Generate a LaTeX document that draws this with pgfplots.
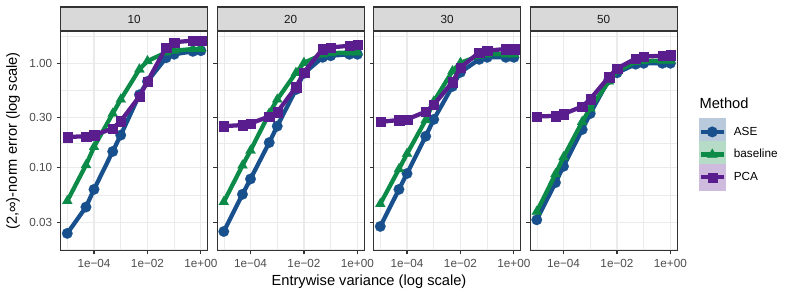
\documentclass[border=0pt]{standalone}
\usepackage{pgfplots}
\usepackage{pgfplotstable}
\pgfplotsset{compat=1.18}
\usepackage{fontspec}
\setmainfont{Liberation Sans}
\definecolor{cASE}{HTML}{17508C}
\definecolor{cBase}{HTML}{0C8A47}
\definecolor{cPCA}{HTML}{5A1D8E}
\definecolor{grid92}{HTML}{EBEBEB}
\definecolor{g20}{HTML}{333333}
\definecolor{g30}{HTML}{4D4D4D}
\definecolor{g85}{HTML}{D9D9D9}
\definecolor{g10}{HTML}{1A1A1A}

\pgfplotstableread{
x ase base pca
1e-5 0.0235 0.048 0.197
5e-5 0.042 0.106 0.200
1e-4 0.062 0.158 0.205
5e-4 0.143 0.33 0.237
1e-3 0.205 0.45 0.28
5e-3 0.50 0.875 0.48
1e-2 0.67 1.05 0.67
5e-2 1.13 1.27 1.42
1e-1 1.22 1.32 1.59
5e-1 1.30 1.37 1.65
1 1.32 1.37 1.65
}\tA
\pgfplotstableread{
x ase base pca
1e-5 0.0245 0.047 0.25
5e-5 0.0556 0.105 0.256
1e-4 0.078 0.146 0.265
5e-4 0.174 0.33 0.31
1e-3 0.25 0.45 0.34
5e-3 0.56 0.81 0.59
1e-2 0.80 1.01 0.82
5e-2 1.14 1.22 1.37
1e-1 1.18 1.25 1.42
5e-1 1.22 1.27 1.47
1 1.22 1.27 1.50
}\tB
\pgfplotstableread{
x ase base pca
1e-5 0.0274 0.045 0.275
5e-5 0.062 0.097 0.286
1e-4 0.088 0.136 0.29
5e-4 0.20 0.286 0.344
1e-3 0.29 0.43 0.40
5e-3 0.60 0.84 0.66
1e-2 0.82 1.01 0.91
5e-2 1.09 1.18 1.27
1e-1 1.14 1.22 1.32
5e-1 1.14 1.22 1.37
1 1.14 1.22 1.37
}\tC
\pgfplotstableread{
x ase base pca
1e-5 0.0317 0.038 0.31
5e-5 0.072 0.087 0.313
1e-4 0.103 0.126 0.327
5e-4 0.232 0.275 0.385
1e-3 0.33 0.37 0.454
5e-3 0.70 0.67 0.74
1e-2 0.81 0.84 0.89
5e-2 0.98 1.03 1.11
1e-1 1.00 1.05 1.16
5e-1 1.00 1.06 1.18
1 1.00 1.06 1.20
}\tD

\pgfplotsset{
  every axis/.append style={
    scale only axis, width=110.25pt, height=164.8pt,
    xmin=5.623e-6, xmax=1.778, ymin=0.01603, ymax=2.037,
    xtick={1e-4,1e-2,1}, xticklabels={1e−04,1e−02,1e+00},
    minor xtick={1e-5,1e-3,1e-1},
    ytick={0.03,0.1,0.3,1},
    minor ytick={0.01644,0.05477,0.1732,0.5477,1.826},
    grid=both,
    major grid style={grid92, line width=0.8pt},
    minor grid style={grid92, line width=0.4pt},
    axis line style={g20, line width=0.8pt},
    major tick style={g20, line width=0.8pt},
    major tick length=2.75pt, minor tick length=0pt,
    tick align=outside, xtick pos=bottom, ytick pos=left,
    tick label style={font=\fontsize{8.8}{10}\selectfont, text=g30},
    clip mode=individual,
  },
}
\newcommand{\facetstrip}[1]{%
  \draw[g20, fill=g85, line width=0.8pt] (rel axis cs:0,1) rectangle ([yshift=18pt]rel axis cs:1,1);
  \node[text=g10, font=\fontsize{8.8}{10}\selectfont] at ([yshift=9pt]rel axis cs:0.5,1) {#1};
  \draw[g20, line width=0.8pt] (rel axis cs:0,0) rectangle (rel axis cs:1,1);
}
\newcommand{\threeplots}[1]{%
  \addplot[cASE, line width=3.2pt, mark=*, mark size=4pt, mark options={solid, line width=0.1pt, fill=cASE},
    legend image code/.code={\fill[cASE!30] (0pt,-8.6pt) rectangle (17.2pt,8.6pt);
      \draw[mark repeat=2,mark phase=2] plot coordinates {(0pt,0pt)(8.6pt,0pt)(17.2pt,0pt)};}]
    table[x=x,y=ase]{#1};
  \addplot[cBase, line width=3.2pt, mark=triangle*, mark size=4.4pt, mark options={solid, line width=0.1pt, fill=cBase},
    legend image code/.code={\fill[cBase!30] (0pt,-8.6pt) rectangle (17.2pt,8.6pt);
      \draw[mark repeat=2,mark phase=2] plot coordinates {(0pt,0pt)(8.6pt,0pt)(17.2pt,0pt)};}]
    table[x=x,y=base]{#1};
  \addplot[cPCA, line width=3.2pt, mark=square*, mark size=3.5pt, mark options={solid, line width=0.1pt, fill=cPCA},
    legend image code/.code={\fill[cPCA!30] (0pt,-8.6pt) rectangle (17.2pt,8.6pt);
      \draw[mark repeat=2,mark phase=2] plot coordinates {(0pt,0pt)(8.6pt,0pt)(17.2pt,0pt)};}]
    table[x=x,y=pca]{#1};
}

\begin{document}
\begin{tikzpicture}
\begin{loglogaxis}[at={(45.45pt,34.7pt)}, anchor=south west,
  yticklabels={0.03,0.10,0.30,1.00},
  ylabel={(2,∞)-norm error (log scale)},
  every axis y label/.style={at={(rel axis cs:0,0.5)}, xshift=-35.7pt, rotate=90, anchor=center, font=\fontsize{11}{13}\selectfont}]
\threeplots{\tA}
\facetstrip{10}
\end{loglogaxis}
\begin{loglogaxis}[at={(162.825pt,34.7pt)}, anchor=south west, yticklabels={}]
\threeplots{\tB}
\facetstrip{20}
\end{loglogaxis}
\begin{loglogaxis}[at={(280.2pt,34.7pt)}, anchor=south west, yticklabels={}]
\threeplots{\tC}
\facetstrip{30}
\end{loglogaxis}
\begin{loglogaxis}[at={(397.575pt,34.7pt)}, anchor=south west, yticklabels={},
  legend style={at={(rel axis cs:1,0.6026)}, anchor=north west, xshift=16.2pt,
    draw=none, fill=none, inner sep=0pt, outer sep=0pt, row sep=-3.4pt, column sep=6pt,
    font=\fontsize{8.8}{10}\selectfont, nodes={inner sep=0pt}},
  legend cell align=left]
\threeplots{\tD}
\legend{ASE,baseline,PCA}
\facetstrip{50}
\end{loglogaxis}
\node[anchor=west, inner sep=0pt, font=\fontsize{11}{13}\selectfont] at (524.5pt,145.3pt) {Method};
\node[font=\fontsize{11}{13}\selectfont] at (276.75pt,11.5pt) {Entrywise variance (log scale)};
\pgfresetboundingbox
\path (0,0) rectangle (594.75pt,222.75pt);
\end{tikzpicture}
\end{document}
